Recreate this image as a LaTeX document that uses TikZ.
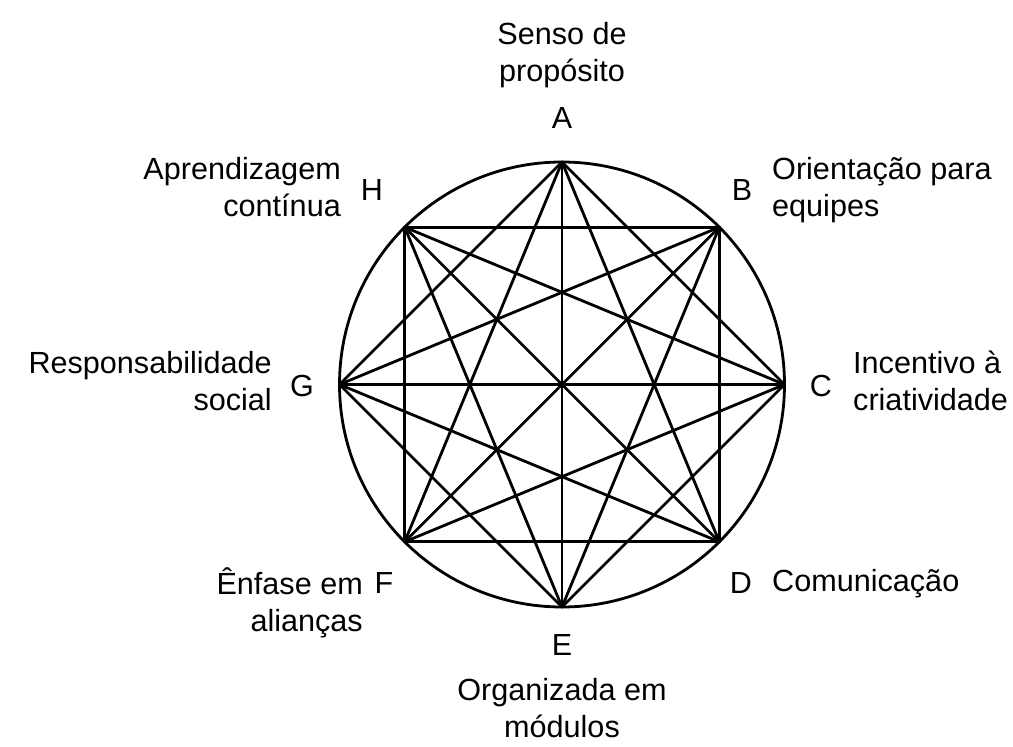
\documentclass[tikz,border=0pt]{standalone}
\usepackage{fontspec}
\setmainfont{Liberation Sans}
\usepackage{tikz}
\usetikzlibrary{calc}

\begin{document}
\begin{tikzpicture}[x=1pt,y=-1pt,
    chord/.style={line width=2.8pt,line cap=round},
    letter/.style={font=\fontsize{30.5}{37}\selectfont,inner sep=0pt},
    caption/.style={font=\fontsize{30.6}{37}\selectfont,inner sep=0pt}]
    \useasboundingbox (0,0) rectangle (1013,747);

    % Centre and vertices:
    \coordinate (O) at (562,384.5);
    \foreach \v/\a in {A/-90,B/-45,C/0,D/45,E/90,F/135,G/180,H/-135}{%
        \coordinate (v\v) at ($(O)+(\a:222.5)$);
    }

    % Circle and chords (every pair that is not a neighbour):
    \draw [chord] (O) circle (222.5);
    \foreach \p/\q in {A/C,A/D,A/E,A/F,A/G,B/D,B/E,B/F,B/G,B/H,
                       C/E,C/F,C/G,C/H,D/F,D/G,D/H,E/G,E/H,F/H}{%
        \draw [chord] (v\p) -- (v\q);
    }

    % Letters:
    \node [letter] (lA) at (562,118) {A};
    \node [letter] (lB) at (742,190) {B};
    \node [letter] (lC) at (821,386) {C};
    \node [letter] (lD) at (741,583) {D};
    \node [letter] (lE) at (562,645) {E};
    \node [letter] (lF) at (384,583) {F};
    \node [letter] (lG) at (302,386) {G};
    \node [letter] (lH) at (372,190) {H};

    % Captions:
    \node [caption,align=center] (tA) at (562,55.5) {Senso de\\propósito};
    \node [caption,align=left,anchor=west] (tB) at (772,190) {Orientação para\\equipes};
    \node [caption,align=left,anchor=west] (tC) at (853,381) {Incentivo à\\criatividade};
    \node [caption,anchor=base west] (tD) at (772,591) {Comunicação};
    \node [caption,align=center] (tE) at (562,708.5) {Organizada em\\módulos};
    \node [caption,align=right,anchor=east] (tF) at (363,602.5) {Ênfase em\\alianças};
    \node [caption,align=right,anchor=east] (tG) at (272,381) {Responsabilidade\\social};
    \node [caption,align=right,anchor=east] (tH) at (341,187) {Aprendizagem\\contínua};
\end{tikzpicture}
\end{document}
